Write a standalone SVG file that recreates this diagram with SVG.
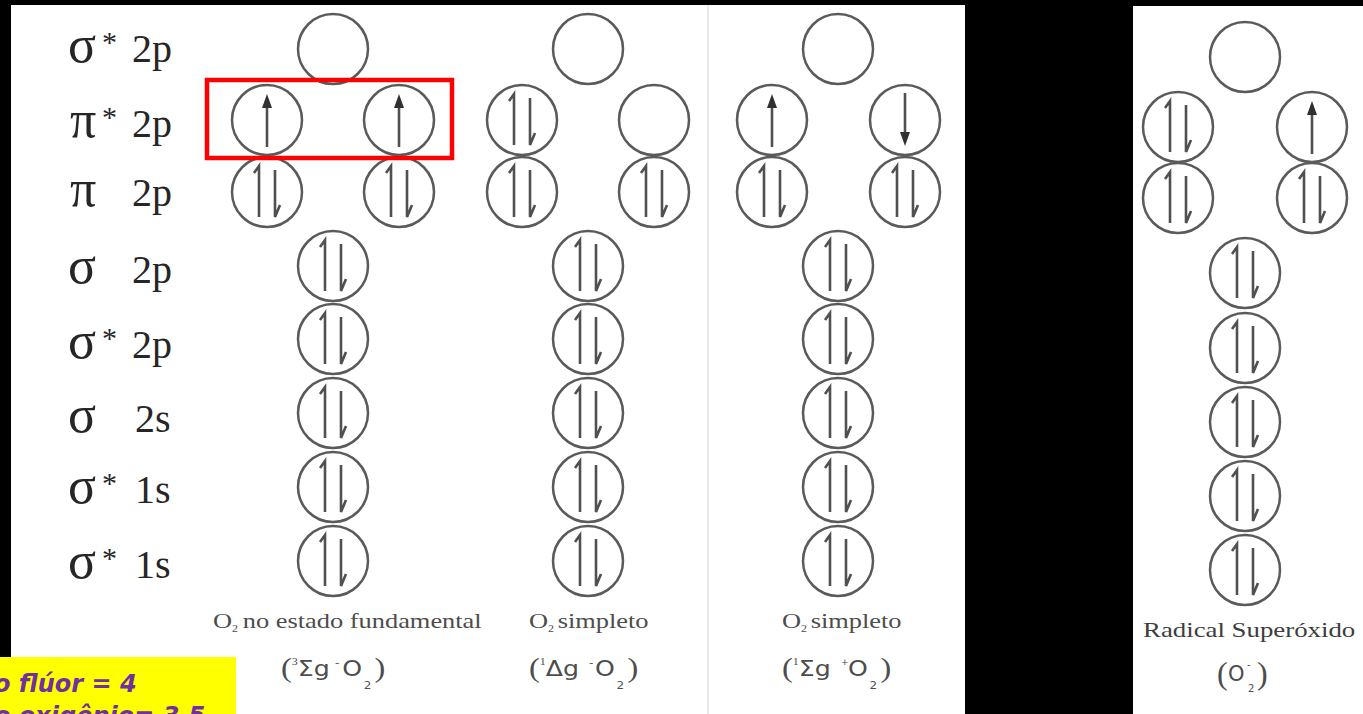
<svg xmlns="http://www.w3.org/2000/svg" width="1363" height="714" viewBox="0 0 1363 714">
<style>
.orb circle{fill:none;stroke:#5a5a5a;stroke-width:2.5}
.arr{fill:none;stroke:#505050;stroke-width:2.6;stroke-linecap:butt}
.head{fill:#303030}
.lbl{font-family:"Liberation Serif","Times New Roman",serif;font-size:40px;fill:#262626}
.gk{font-size:52px}
.st{font-size:30px}
.cap{font-family:"Liberation Serif","Times New Roman",serif;font-size:22px;fill:#4d4d4d}
.f{fill:#4d4d4d}
.sans{font-family:"DejaVu Sans","Liberation Sans",sans-serif}
.ser{font-family:"Liberation Serif","Times New Roman",serif}
.big{font-size:27px}
.mid{font-size:21px}
.sm{font-size:10px}
.note{font-family:"DejaVu Sans",Verdana,sans-serif;font-weight:bold;font-style:italic;font-size:24px;fill:#7030A0}
</style>
<defs>
<g id="empty" class="orb"><circle r="35"/></g>
<g id="pair" class="orb"><circle r="35"/><path class="arr" d="M-8,25 V-26 L-13,-19 M8,-22 V25 L13,13"/></g>
<g id="up" class="orb"><circle r="35"/><path class="arr" d="M0,27 V-14"/><polygon class="head" points="0,-26 -5,-12 5,-12"/></g>
<g id="down" class="orb"><circle r="35"/><path class="arr" d="M0,-27 V14"/><polygon class="head" points="0,26 -5,12 5,12"/></g>
</defs>
<rect width="1363" height="714" fill="#000"/>
<rect x="11" y="5" width="954" height="709" fill="#fff"/>
<rect x="1133" y="6" width="230" height="708" fill="#fff"/>
<line x1="708" y1="5" x2="708" y2="714" stroke="#e2e2e2" stroke-width="1.5"/>

<g id="labels">
<text class="lbl" x="68" y="62"><tspan class="gk">σ</tspan><tspan class="st" x="102" y="52">*</tspan><tspan x="132" y="62">2p</tspan></text>
<text class="lbl" x="70" y="137"><tspan class="gk">π</tspan><tspan class="st" x="102" y="127">*</tspan><tspan x="132" y="137">2p</tspan></text>
<text class="lbl" x="70" y="206"><tspan class="gk">π</tspan><tspan x="132" y="206">2p</tspan></text>
<text class="lbl" x="68" y="283"><tspan class="gk">σ</tspan><tspan x="132" y="283">2p</tspan></text>
<text class="lbl" x="68" y="358"><tspan class="gk">σ</tspan><tspan class="st" x="102" y="348">*</tspan><tspan x="132" y="358">2p</tspan></text>
<text class="lbl" x="68" y="432"><tspan class="gk">σ</tspan><tspan x="135" y="432">2s</tspan></text>
<text class="lbl" x="68" y="503"><tspan class="gk">σ</tspan><tspan class="st" x="102" y="493">*</tspan><tspan x="135" y="503">1s</tspan></text>
<text class="lbl" x="68" y="578"><tspan class="gk">σ</tspan><tspan class="st" x="102" y="568">*</tspan><tspan x="135" y="578">1s</tspan></text>
</g>

<g id="col1">
<g id="c1-sig2p-star"><use href="#empty" x="333" y="49"/></g>
<g id="c1-pi2p-star-a"><use href="#up" x="267" y="120"/></g>
<g id="c1-pi2p-star-b"><use href="#up" x="399" y="120"/></g>
<g id="c1-pi2p-a"><use href="#pair" x="267" y="192"/></g>
<g id="c1-pi2p-b"><use href="#pair" x="399" y="192"/></g>
<g id="c1-sig2p"><use href="#pair" x="333" y="266"/></g>
<g id="c1-sig2p-star2"><use href="#pair" x="333" y="339"/></g>
<g id="c1-sig2s"><use href="#pair" x="333" y="413"/></g>
<g id="c1-sig1s-star"><use href="#pair" x="333" y="487"/></g>
<g id="c1-sig1s-star2"><use href="#pair" x="333" y="561"/></g>
<g id="c1-caption">
<text class="cap" transform="translate(213,628) scale(1.2,1)">O<tspan style="font-size:10px" dy="4">2</tspan><tspan dx="4" dy="-4">no estado fundamental</tspan></text>
<text class="f" transform="translate(281,0) scale(1.2,1)"><tspan class="ser big" x="0" y="677">(</tspan><tspan class="ser sm" x="9" y="665">3</tspan><tspan class="sans mid" x="14" y="676">Σg</tspan><tspan class="sans sm" x="45" y="666">-</tspan><tspan class="sans mid" x="51" y="676">O</tspan><tspan class="sans sm" x="69" y="689">2</tspan><tspan class="ser big" x="78" y="677">)</tspan></text>
</g>
</g>

<g id="col2">
<g id="c2-sig2p-star"><use href="#empty" x="588" y="49"/></g>
<g id="c2-pi2p-star-a"><use href="#pair" x="522" y="120"/></g>
<g id="c2-pi2p-star-b"><use href="#empty" x="654" y="120"/></g>
<g id="c2-pi2p-a"><use href="#pair" x="522" y="192"/></g>
<g id="c2-pi2p-b"><use href="#pair" x="654" y="192"/></g>
<g id="c2-sig2p"><use href="#pair" x="588" y="266"/></g>
<g id="c2-sig2p-star2"><use href="#pair" x="588" y="339"/></g>
<g id="c2-sig2s"><use href="#pair" x="588" y="413"/></g>
<g id="c2-sig1s-star"><use href="#pair" x="588" y="487"/></g>
<g id="c2-sig1s-star2"><use href="#pair" x="588" y="561"/></g>
<g id="c2-caption">
<text class="cap" transform="translate(529,628) scale(1.2,1)">O<tspan style="font-size:10px" dy="4">2</tspan><tspan dx="3" dy="-4">simpleto</tspan></text>
<text class="f" transform="translate(529,0) scale(1.2,1)"><tspan class="ser big" x="0" y="677">(</tspan><tspan class="ser sm" x="9" y="665">1</tspan><tspan class="sans mid" x="14" y="676">Δg</tspan><tspan class="sans sm" x="50" y="666">-</tspan><tspan class="sans mid" x="55" y="676">O</tspan><tspan class="sans sm" x="73" y="689">2</tspan><tspan class="ser big" x="82" y="677">)</tspan></text>
</g>
</g>

<g id="col3">
<g id="c3-sig2p-star"><use href="#empty" x="838" y="49"/></g>
<g id="c3-pi2p-star-a"><use href="#up" x="772" y="120"/></g>
<g id="c3-pi2p-star-b"><use href="#down" x="905" y="120"/></g>
<g id="c3-pi2p-a"><use href="#pair" x="772" y="192"/></g>
<g id="c3-pi2p-b"><use href="#pair" x="905" y="192"/></g>
<g id="c3-sig2p"><use href="#pair" x="838" y="266"/></g>
<g id="c3-sig2p-star2"><use href="#pair" x="838" y="339"/></g>
<g id="c3-sig2s"><use href="#pair" x="838" y="413"/></g>
<g id="c3-sig1s-star"><use href="#pair" x="838" y="487"/></g>
<g id="c3-sig1s-star2"><use href="#pair" x="838" y="561"/></g>
<g id="c3-caption">
<text class="cap" transform="translate(782,628) scale(1.2,1)">O<tspan style="font-size:10px" dy="4">2</tspan><tspan dx="3" dy="-4">simpleto</tspan></text>
<text class="f" transform="translate(782,0) scale(1.2,1)"><tspan class="ser big" x="0" y="677">(</tspan><tspan class="ser sm" x="9" y="665">1</tspan><tspan class="sans mid" x="14" y="676">Σg</tspan><tspan class="sans" style="font-size:8px" x="49" y="665">+</tspan><tspan class="sans mid" x="55" y="676">O</tspan><tspan class="sans sm" x="73" y="689">2</tspan><tspan class="ser big" x="82" y="677">)</tspan></text>
</g>
</g>

<g id="col4">
<g id="c4-sig2p-star"><use href="#empty" x="1245" y="57"/></g>
<g id="c4-pi2p-star-a"><use href="#pair" x="1178" y="127"/></g>
<g id="c4-pi2p-star-b"><use href="#up" x="1312" y="127"/></g>
<g id="c4-pi2p-a"><use href="#pair" x="1178" y="198"/></g>
<g id="c4-pi2p-b"><use href="#pair" x="1312" y="198"/></g>
<g id="c4-sig2p"><use href="#pair" x="1245" y="273"/></g>
<g id="c4-sig2p-star2"><use href="#pair" x="1245" y="348"/></g>
<g id="c4-sig2s"><use href="#pair" x="1245" y="422"/></g>
<g id="c4-sig1s-star"><use href="#pair" x="1245" y="496"/></g>
<g id="c4-sig1s-star2"><use href="#pair" x="1245" y="570"/></g>
<g id="c4-caption">
<text class="cap" style="fill:#3d3d3d" transform="translate(1143,637) scale(1.22,1)">Radical Superóxido</text>
<text class="f"><tspan class="ser" style="font-size:32px" x="1217" y="684">(</tspan><tspan class="sans" style="font-size:21px" x="1228" y="681">O</tspan><tspan class="sans sm" x="1247" y="668">-</tspan><tspan class="sans sm" x="1248" y="692">2</tspan><tspan class="ser" style="font-size:32px" x="1257" y="684">)</tspan></text>
</g>
</g>

<g id="highlight">
<rect x="207" y="80" width="245" height="78" fill="none" stroke="#ff0000" stroke-width="4.5"/>
</g>

<g id="connectors"/>

<g id="note">
<rect x="0" y="657" width="236" height="57" fill="#ffff00"/>
<text class="note" x="-6" y="692">o flúor = 4</text>
<text class="note" x="-6" y="724">o oxigênio= 3,5</text>
</g>
</svg>
